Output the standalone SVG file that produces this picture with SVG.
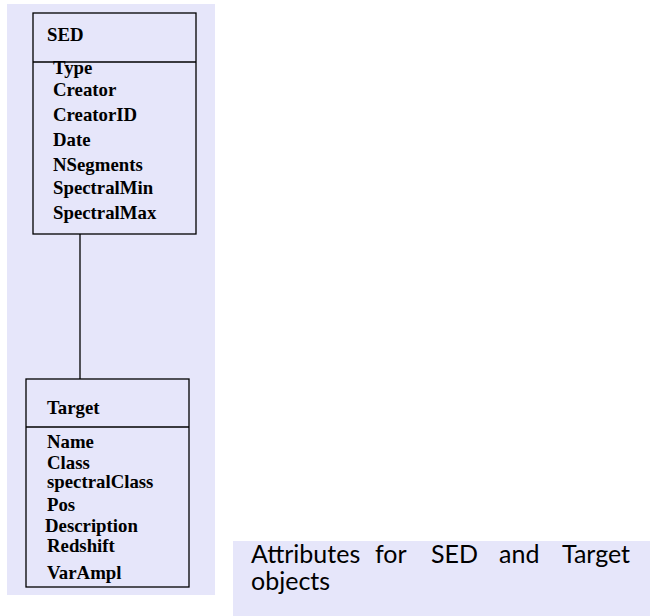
<svg xmlns="http://www.w3.org/2000/svg" width="650" height="616" viewBox="0 0 650 616">
<style>
.bg{fill:#e6e6fa}
.box{fill:#e6e6fa;stroke:#000;stroke-width:1.3}
.div{stroke:#000;stroke-width:1.3}
.t{font-family:"Liberation Serif","Times New Roman",serif;font-weight:bold;font-size:18.8px;fill:#000}
.cap{font-family:Lato,"DejaVu Sans",sans-serif;font-size:25px;fill:#000}
</style>
<rect x="0" y="0" width="650" height="616" fill="#fff"/>
<rect class="bg" x="7" y="4" width="208" height="591"/>
<rect class="bg" x="233" y="541" width="417" height="75"/>
<g id="connectors">
<line x1="80" y1="234" x2="80" y2="379" stroke="#000" stroke-width="1.3"/>
</g>
<g id="SED">
<rect class="box" x="33" y="13" width="163" height="221"/>
<line class="div" x1="33" y1="62" x2="196" y2="62"/>
<text class="t" x="47" y="41">SED</text>
<text class="t" x="53" y="74">Type</text>
<text class="t" x="53" y="96">Creator</text>
<text class="t" x="53" y="121">CreatorID</text>
<text class="t" x="53" y="146">Date</text>
<text class="t" x="53" y="171">NSegments</text>
<text class="t" x="53" y="194">SpectralMin</text>
<text class="t" x="53" y="219">SpectralMax</text>
</g>
<g id="Target">
<rect class="box" x="26" y="379" width="163" height="208"/>
<line class="div" x1="26" y1="427" x2="189" y2="427"/>
<text class="t" x="47" y="414">Target</text>
<text class="t" x="47" y="448">Name</text>
<text class="t" x="47" y="469">Class</text>
<text class="t" x="47" y="488">spectralClass</text>
<text class="t" x="47" y="511">Pos</text>
<text class="t" x="45" y="532">Description</text>
<text class="t" x="47" y="552">Redshift</text>
<text class="t" x="47" y="579">VarAmpl</text>
</g>
<g id="caption">
<text class="cap" y="563"><tspan x="251">Attributes</tspan><tspan x="375">for</tspan><tspan x="431">SED</tspan><tspan x="499">and</tspan><tspan x="562">Target</tspan></text>
<text class="cap" x="251" y="590">objects</text>
</g>
</svg>
